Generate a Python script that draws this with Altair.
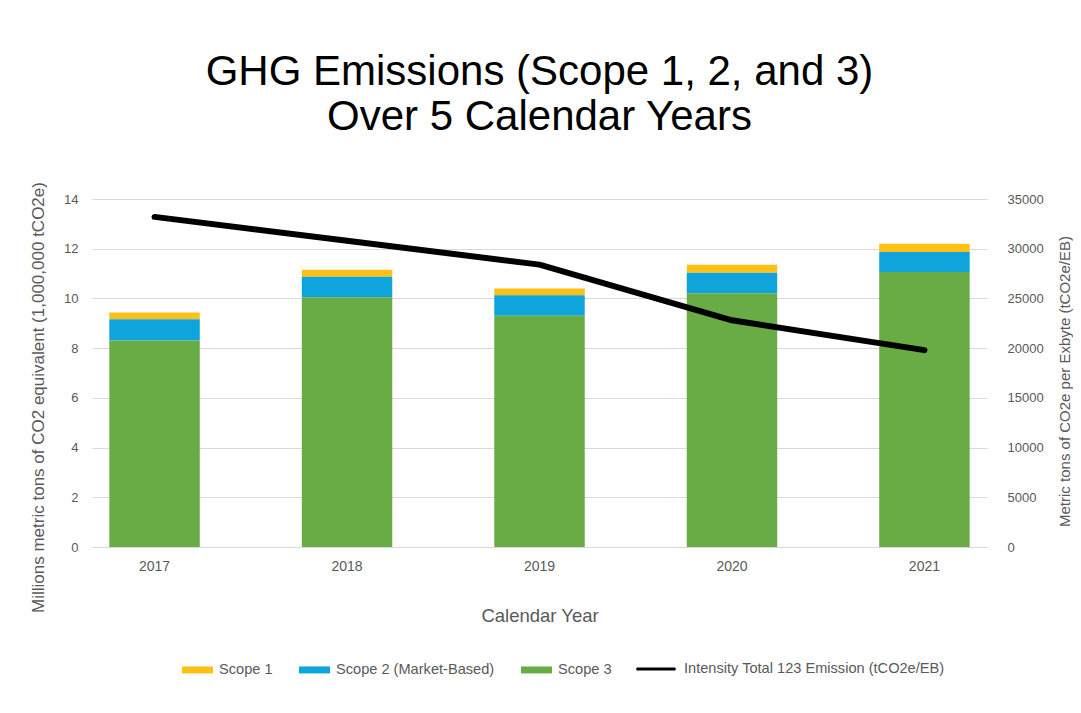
import altair as alt
import pandas as pd

years = ["2017", "2018", "2019", "2020", "2021"]
scope1 = [0.27, 0.28, 0.27, 0.32, 0.33]
scope2 = [0.85, 0.82, 0.83, 0.82, 0.81]
scope3 = [8.31, 10.05, 9.30, 10.21, 11.06]
intensity = [33200, 30800, 28400, 22800, 19800]

series_names = ["Scope 1", "Scope 2 (Market-Based)", "Scope 3"]
series_colors = ["#FDC116", "#0FA4DB", "#69AB44"]
stack_rank = [2, 1, 0]
line_name = "Intensity Total 123 Emission (tCO2e/EB)"

rows = []
for i, yr in enumerate(years):
    for name, vals, rank in zip(series_names, [scope1, scope2, scope3], stack_rank):
        rows.append({"year": yr, "series": name, "value": vals[i], "rank": rank})
bars_df = pd.DataFrame(rows)
line_df = pd.DataFrame({"year": years, "intensity": intensity, "series": [line_name] * len(years)})

FONT = "Liberation Sans"
GRAY = "#595959"

x_enc = alt.X(
    "year:N",
    scale=alt.Scale(paddingInner=0.53, paddingOuter=0.09),
    axis=alt.Axis(
        title="Calendar Year", labelAngle=0, labelFontSize=14, labelColor=GRAY,
        labelPadding=12, ticks=False, domainColor="#d9d9d9", titleFontSize=18.5,
        titleColor=GRAY, titleFontWeight="normal", titlePadding=33,
    ),
)

rect_path = "M-1,-0.226H1V0.226H-1Z"
line_path = "M-0.92,-0.075H0.92A0.075,0.075,0,0,1,0.92,0.075H-0.92A0.075,0.075,0,0,1,-0.92,-0.075Z"

bars = alt.Chart(bars_df).mark_bar().encode(
    x=x_enc,
    y=alt.Y(
        "value:Q", stack="zero",
        scale=alt.Scale(domain=[0, 14], nice=False),
        axis=alt.Axis(
            title="Millions metric tons of CO2 equivalent (1,000,000 tCO2e)",
            values=list(range(0, 15, 2)), grid=True, gridColor="#d9d9d9",
            ticks=False, domain=False, labelFontSize=13, labelColor=GRAY,
            labelPadding=14, titleFontSize=17, titleColor=GRAY,
            titleFontWeight="normal", titleX=-54, titleY=198,
            titleBaseline="middle", titleAngle=270, titleAlign="center",
        ),
    ),
    color=alt.Color(
        "series:N",
        scale=alt.Scale(domain=series_names, range=series_colors),
        legend=alt.Legend(
            title=None, orient="none", direction="horizontal",
            legendX=90, legendY=455, symbolType=rect_path, symbolSize=961,
            symbolStrokeWidth=0, labelFontSize=14.6, labelColor=GRAY,
            labelOffset=6, columnPadding=26, labelLimit=400, padding=0,
        ),
    ),
    order=alt.Order("rank:Q"),
)

line = alt.Chart(line_df).mark_line(
    strokeWidth=6, strokeCap="round", strokeJoin="round"
).encode(
    x=x_enc,
    y=alt.Y(
        "intensity:Q",
        scale=alt.Scale(domain=[0, 35000], nice=False),
        axis=alt.Axis(
            orient="right", title="Metric tons of CO2e per Exbyte (tCO2e/EB)",
            values=list(range(0, 35001, 5000)), format="d", grid=False, ticks=False,
            domain=False, labelFontSize=13, labelColor=GRAY, labelPadding=20,
            titleFontSize=15, titleColor=GRAY, titleFontWeight="normal",
            titleX=77, titleY=182, titleBaseline="middle", titleAngle=270,
            titleAlign="center",
        ),
    ),
    stroke=alt.Stroke(
        "series:N",
        scale=alt.Scale(domain=[line_name], range=["#000000"]),
        legend=alt.Legend(
            title=None, orient="none", direction="horizontal",
            legendX=544, legendY=450, symbolType=line_path, symbolSize=1600,
            symbolFillColor="#000000", symbolStrokeWidth=0,
            labelFontSize=14.6, labelColor=GRAY, labelOffset=8,
            labelLimit=400, padding=0,
        ),
    ),
)

chart = alt.layer(bars, line).resolve_scale(
    y="independent", color="independent", stroke="independent"
).properties(
    width=895,
    height=348,
    autosize=alt.AutoSizeParams(type="none"),
    padding={"left": 84, "top": 191, "right": 86, "bottom": 150},
    title=alt.TitleParams(
        ["GHG Emissions (Scope 1, 2, and 3)", "Over 5 Calendar Years"],
        fontSize=42, font=FONT, fontWeight="normal", color="#000000",
        lineHeight=45, anchor="middle", offset=43,
    ),
).configure(
    font=FONT,
).configure_view(
    stroke=None
)

chart.save("out.html", embed_options={"renderer": "svg", "actions": False})
